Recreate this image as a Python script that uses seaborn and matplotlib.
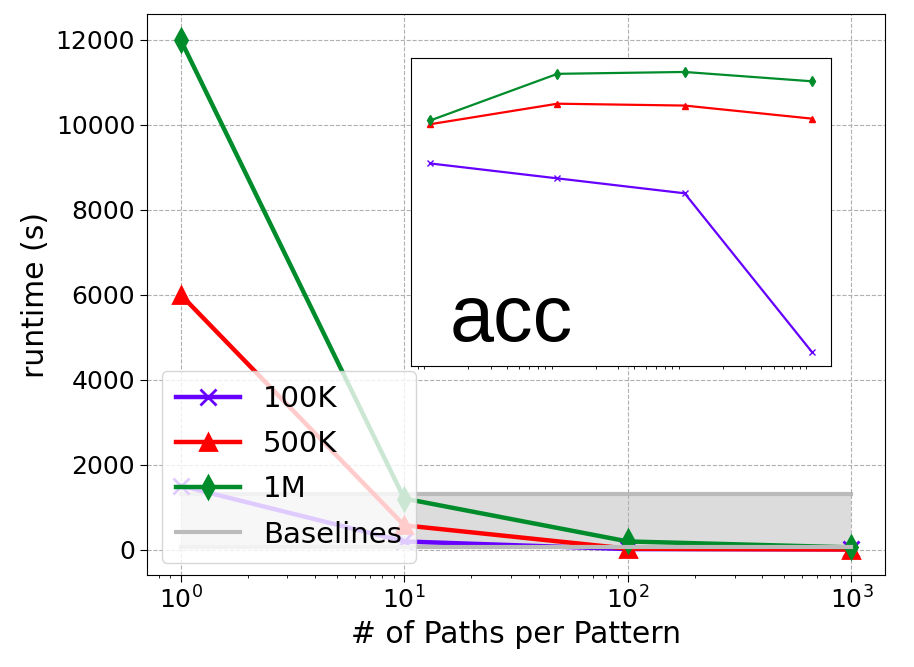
import numpy as np
import pandas as pd
import matplotlib
matplotlib.use("Agg")
import matplotlib.pyplot as plt
import seaborn as sns

# data
paths = [1, 10, 100, 1000]
series = ["100K", "500K", "1M"]
runtime_100k = [1500, 190, 10, 5]
runtime_500k = [6000, 570, 20, 0]
runtime_1m = [12000, 1200, 190, 50]
baseline_low = 70
baseline_high = 1310

# inset accuracy (no scale shown in the chart, relative values)
acc_100k = [0.901, 0.893, 0.885, 0.800]
acc_500k = [0.922, 0.933, 0.932, 0.925]
acc_1m = [0.924, 0.949, 0.950, 0.945]

colors = {"100K": "#6600ff", "500K": "#ff0000", "1M": "#008c2b"}
markers = {"100K": "x", "500K": "^", "1M": "d"}

df = pd.DataFrame({
    "paths": paths * 3,
    "size": np.repeat(series, len(paths)),
    "runtime": runtime_100k + runtime_500k + runtime_1m,
    "acc": acc_100k + acc_500k + acc_1m,
})

fig = plt.figure(figsize=(9.14, 6.67), dpi=100)
ax = fig.add_axes([0.1608, 0.1379, 0.8075, 0.8411])

for s in series:
    d = df[df["size"] == s]
    sns.lineplot(data=d, x="paths", y="runtime", ax=ax, color=colors[s],
                 marker=markers[s], markersize=11, linewidth=3.2,
                 markeredgecolor=colors[s], markeredgewidth=2, label=s)

ax.fill_between([paths[0], paths[-1]], baseline_low, baseline_high,
                color="#dcdcdc", zorder=1, linewidth=0)
ax.plot([paths[0], paths[-1]], [baseline_high] * 2, color="#bbbbbb", lw=3, zorder=1.5, label="Baselines")
ax.plot([paths[0], paths[-1]], [baseline_low] * 2, color="#bbbbbb", lw=3, zorder=2.5)

ax.set_xscale("log")
ax.grid(True, color="#b0b0b0", linestyle="--", linewidth=0.8)
ax.set_xlabel("# of Paths per Pattern", fontsize=21.5)
ax.set_ylabel("runtime (s)", fontsize=21.5)
ax.tick_params(axis="both", which="major", labelsize=18, length=5)
ax.set_yticks([0, 2000, 4000, 6000, 8000, 10000, 12000])

handles, labels = ax.get_legend_handles_labels()
ax.legend(handles, labels, loc="lower left", bbox_to_anchor=(0.0, -0.004),
          fontsize=21, handlelength=2.2, labelspacing=0.59, borderpad=0.48,
          framealpha=0.8)

# inset with accuracy
ins = fig.add_axes([0.4497, 0.4513, 0.4595, 0.4618])
for s in series:
    d = df[df["size"] == s]
    sns.lineplot(data=d, x="paths", y="acc", ax=ins, color=colors[s],
                 marker=markers[s], markersize=5, linewidth=1.6,
                 markeredgecolor=colors[s], markeredgewidth=1, legend=False)
ins.set_xscale("log")
ins.set_xticks([])
ins.set_yticks([])
ins.set_xlabel("")
ins.set_ylabel("")
ins.text(0.093, 0.08, "acc", transform=ins.transAxes, fontsize=57,
         family="Liberation Sans")

fig.savefig("out.png", dpi=100)
